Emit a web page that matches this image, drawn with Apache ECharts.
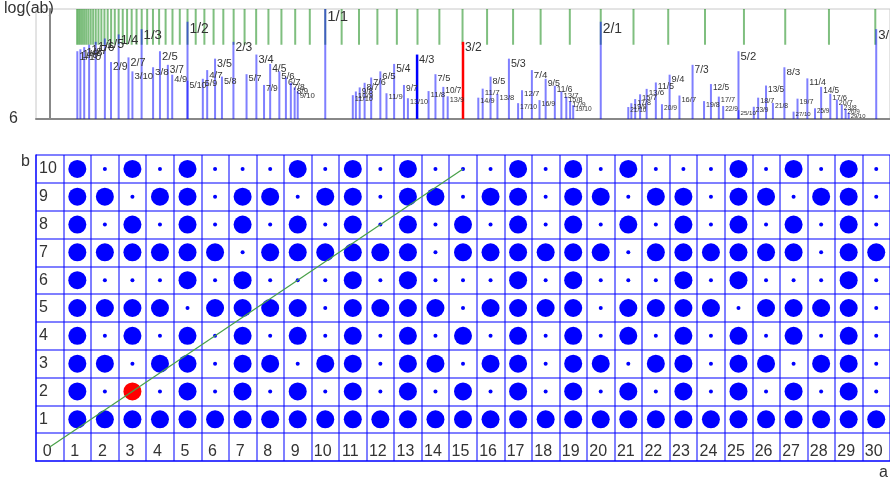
<!DOCTYPE html>
<html>
<head>
<meta charset="utf-8">
<script src="https://cdn.jsdelivr.net/npm/echarts@6/dist/echarts.min.js"></script>
<style>
  html, body { margin: 0; padding: 0; background: #fff; }
  #chart { width: 890px; height: 480px; }
</style>
</head>
<body>
<div id="chart"></div>
<script>
// a = 0..30 across, b = 0..10 up
const aLabels = ['0','1','2','3','4','5','6','7','8','9','10','11','12','13','14','15',
  '16','17','18','19','20','21','22','23','24','25','26','27','28','29','30'];
const bLabels = ['0','1','2','3','4','5','6','7','8','9','10'];

// one string per row b = 1..10, one char per a = 1..30 ('1' = big dot)
const bigDots = [
  '111111111111111111111111111111',
  '101010101010101010101010101010',
  '110110110110110110110110110110',
  '101010101010101010101010101010',
  '111101111011110111101111011110',
  '100010100010100010100010100010',
  '111111011111101111110111111011',
  '101010101010101010101010101010',
  '110110110110110110110110110110',
  '101010001010100010101000101010'
];

// highlighted ratio a/b
const redRatio = [3, 2];
const blueRatio = [4, 3];
const ratioLine = [[0, 0], [15, 10]];

// equal-tempered steps drawn as green ticks (2^(k/12))
const semitones = [-40,-39,-38,-37,-36,-35,-34,-33,-32,-31,-30,-29,-28,-27,-26,-25,-24,-23,-22,-21,
  -20,-19,-18,-17,-16,-15,-14,-13,-12,-11,-10,-9,-8,-7,-6,-5,-4,-3,-2,-1,
  0,1,2,3,4,5,6,7,8,9,10,11,12,13,14,15,16,17,18,19];

const FONT = '"Liberation Sans", Arial, sans-serif';

const chart = echarts.init(document.getElementById('chart'));

// dots of lower grid + list of reduced fractions for upper panel
const dotsBig = [], dotsSmall = [], dotsRed = [];
const fractions = [];
bigDots.forEach(function (row, i) {
  const b = i + 1;
  for (let j = 0; j < row.length; j++) {
    const a = j + 1;
    if (row[j] === '1') {
      if (a === redRatio[0] && b === redRatio[1]) dotsRed.push([a, b]);
      else dotsBig.push([a, b]);
      if (a / b <= 3.05) fractions.push({ a: a, b: b });
    } else {
      dotsSmall.push([a, b]);
    }
  }
});

const fracData = fractions.map(function (f) { return [f.a / f.b, Math.log(f.a * f.b)]; });
const greenData = semitones.map(function (k) { return [Math.pow(2, k / 12)]; });

var option = {
  backgroundColor: '#ffffff',
  animation: false,
  textStyle: { fontFamily: FONT },
  grid: [
    { left: 36, top: 9, width: 862, height: 110, show: true, borderColor: '#c8c8c8', borderWidth: 1 },
    { left: 36, top: 155, width: 862, height: 306 }
  ],
  xAxis: [
    {
      type: 'value', gridIndex: 0, min: -0.05, max: 3.05,
      axisLine: { show: true, onZero: false, lineStyle: { color: '#888', width: 2 } },
      axisTick: { show: false }, axisLabel: { show: false }, splitLine: { show: false }
    },
    {
      type: 'category', gridIndex: 1, data: aLabels, boundaryGap: true,
      axisLine: { lineStyle: { color: 'rgba(0,0,255,0.5)', width: 2 } },
      axisTick: { show: false },
      axisLabel: { inside: true, interval: 0, margin: 1, fontSize: 16, color: '#333', fontFamily: FONT, padding: [0, 5, 0, 0] },
      splitLine: { show: true, interval: 0, lineStyle: { color: 'rgba(0,0,255,0.5)', width: 2 } }
    }
  ],
  yAxis: [
    {
      type: 'value', gridIndex: 0, min: 0, max: 6, interval: 6, inverse: true,
      axisLine: { show: true, lineStyle: { color: '#888', width: 2 } },
      axisTick: { show: false },
      axisLabel: {
        margin: 18, fontSize: 16, color: '#333', fontFamily: FONT, padding: [0, 0, 8, 0],
        formatter: function (v) { return v === 6 ? '6' : ''; }
      },
      splitLine: { show: false }
    },
    {
      type: 'category', gridIndex: 1, data: bLabels, boundaryGap: true,
      axisLine: { show: true, lineStyle: { color: 'rgba(0,0,255,0.5)', width: 2 } },
      axisTick: { show: false },
      axisLabel: {
        inside: true, interval: 0, margin: 3, fontSize: 16, color: '#333', fontFamily: FONT, padding: [8, 0, 0, 0],
        formatter: function (v) { return v === '0' ? '' : v; }
      },
      splitLine: { show: true, interval: 0, lineStyle: { color: 'rgba(0,0,255,0.5)', width: 2 } }
    }
  ],
  graphic: [
    { type: 'text', left: 4, top: 1, style: { text: 'log(ab)', fill: '#333', font: '16px ' + FONT } },
    { type: 'text', left: 21, top: 154, style: { text: 'b', fill: '#333', font: '16px ' + FONT } },
    { type: 'text', left: 879, top: 465, style: { text: 'a', fill: '#333', font: '16px ' + FONT } }
  ],
  series: [
    {
      type: 'custom', xAxisIndex: 0, yAxisIndex: 0, silent: true, clip: true,
      data: greenData,
      renderItem: function (params, api) {
        const p0 = api.coord([api.value(0), 0]);
        const p1 = api.coord([api.value(0), 1.95]);
        return {
          type: 'line',
          shape: { x1: p0[0], y1: p0[1], x2: p1[0], y2: p1[1] },
          style: { stroke: 'rgba(0,128,0,0.5)', lineWidth: 2 }
        };
      }
    },
    {
      type: 'custom', xAxisIndex: 0, yAxisIndex: 0, silent: true, clip: true,
      data: fracData,
      renderItem: function (params, api) {
        const f = fractions[params.dataIndex];
        const v = api.value(0), h = api.value(1);
        const p0 = api.coord([v, 6]);
        const p1 = api.coord([v, h]);
        let color = 'rgba(0,0,255,0.5)', w = 2;
        if (f.a === redRatio[0] && f.b === redRatio[1]) { color = '#ff0000'; w = 2.5; }
        if (f.a === blueRatio[0] && f.b === blueRatio[1]) { color = '#0000ff'; w = 2.5; }
        const fs = Math.max(4.5, 15 - 1.6 * h);
        return {
          type: 'group',
          children: [
            { type: 'line', shape: { x1: p0[0], y1: p0[1], x2: p1[0], y2: p1[1] }, style: { stroke: color, lineWidth: w } },
            {
              type: 'text', x: p1[0] + 2, y: p1[1],
              style: { text: f.a + '/' + f.b, font: fs.toFixed(1) + 'px ' + FONT, fill: '#333', align: 'left', verticalAlign: 'top' }
            }
          ]
        };
      }
    },
    {
      type: 'scatter', xAxisIndex: 1, yAxisIndex: 1, silent: true,
      data: dotsBig, symbolSize: 18, itemStyle: { color: '#0000ff', opacity: 1 }
    },
    {
      type: 'scatter', xAxisIndex: 1, yAxisIndex: 1, silent: true,
      data: dotsSmall, symbolSize: 4, itemStyle: { color: '#0000ff', opacity: 1 }
    },
    {
      type: 'scatter', xAxisIndex: 1, yAxisIndex: 1, silent: true,
      data: dotsRed, symbolSize: 18, itemStyle: { color: '#ff0000', opacity: 1 }
    },
    {
      type: 'line', xAxisIndex: 1, yAxisIndex: 1, silent: true, z: 5,
      data: ratioLine, symbol: 'none',
      lineStyle: { color: '#48a048', width: 1.2 }
    }
  ]
};

chart.setOption(option);
</script>
</body>
</html>
